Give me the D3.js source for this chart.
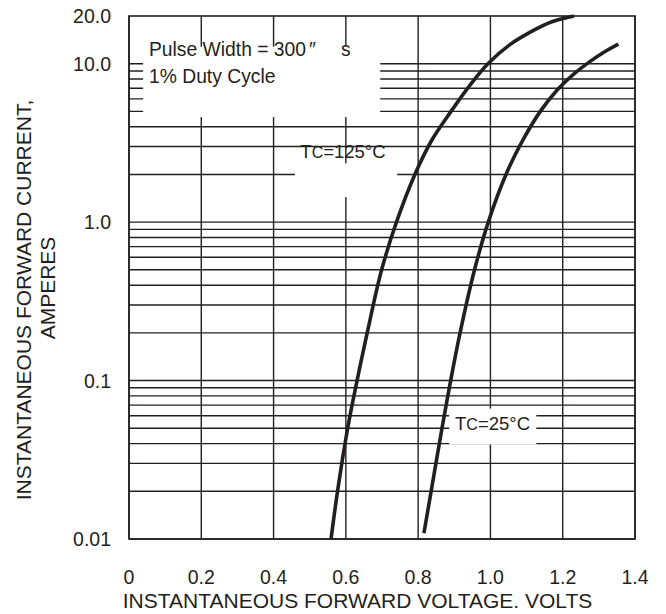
<!DOCTYPE html>
<html>
<head>
<meta charset="utf-8">
<script src="https://cdn.jsdelivr.net/npm/d3@7"></script>
<style>
  body { margin: 0; background: #fff; }
  text { font-family: "Liberation Sans", Arial, sans-serif; fill: #231f20; }
</style>
</head>
<body>
<div id="chart"></div>
<script>
var width = 666,
  height = 614;

// Tc = 125°C curve (volts, amperes)
var hot_v = [0.559, 0.577, 0.605, 0.631, 0.659, 0.699, 0.740, 0.791, 0.838, 0.891, 0.943, 0.993, 1.054, 1.123, 1.170, 1.231];
var hot_i = [0.01, 0.02, 0.05, 0.1, 0.2, 0.5, 1, 2, 3.3, 5, 7.3, 10, 13.2, 16.4, 18.4, 20];
// Tc = 25°C curve
var cold_v = [0.816, 0.836, 0.866, 0.890, 0.916, 0.956, 0.994, 1.043, 1.090, 1.138, 1.184, 1.228, 1.275, 1.316, 1.354];
var cold_i = [0.0109, 0.02, 0.05, 0.1, 0.2, 0.5, 1, 2, 3.3, 5, 6.8, 8.5, 10.3, 11.9, 13.3];

var x_ticks = [0, 0.2, 0.4, 0.6, 0.8, 1.0, 1.2, 1.4];
var x_labels = ["0", "0.2", "0.4", "0.6", "0.8", "1.0", "1.2", "1.4"];
var y_ticks = [20, 10, 1, 0.1, 0.01];
var y_labels = ["20.0", "10.0", "1.0", "0.1", "0.01"];

var ink = "#231f20";

var x = d3.scaleLinear().domain([0, 1.4]).range([129, 635]);
var y = d3.scaleLog().domain([0.01, 20]).range([539, 16]);

var svg = d3
  .select("#chart")
  .append("svg")
  .attr("width", width)
  .attr("height", height);

// log grid: 1..9 in every decade, plus the 10 line
var hlines = [];
[0.01, 0.1, 1].forEach(function (dec) {
  for (var k = 1; k <= 9; k++) hlines.push(dec * k);
});
hlines.push(10);

var grid = svg.append("g").attr("stroke", ink).attr("stroke-width", 1.4);
grid
  .selectAll("line.h")
  .data(hlines)
  .enter()
  .append("line")
  .attr("x1", x(0))
  .attr("x2", x(1.4))
  .attr("y1", function (d) { return y(d); })
  .attr("y2", function (d) { return y(d); });
grid
  .selectAll("line.v")
  .data(x_ticks)
  .enter()
  .append("line")
  .attr("x1", function (d) { return x(d); })
  .attr("x2", function (d) { return x(d); })
  .attr("y1", y(20))
  .attr("y2", y(0.01));

// frame
svg
  .append("rect")
  .attr("x", x(0))
  .attr("y", y(20))
  .attr("width", x(1.4) - x(0))
  .attr("height", y(0.01) - y(20))
  .attr("fill", "none")
  .attr("stroke", ink)
  .attr("stroke-width", 1.6);

// curves
var line = d3
  .line()
  .x(function (d) { return x(d[0]); })
  .y(function (d) { return y(d[1]); })
  .curve(d3.curveCatmullRom.alpha(0.5));

var curves = [d3.zip(hot_v, hot_i), d3.zip(cold_v, cold_i)];
svg
  .selectAll("path.curve")
  .data(curves)
  .enter()
  .append("path")
  .attr("d", line)
  .attr("fill", "none")
  .attr("stroke", ink)
  .attr("stroke-width", 3.6)
  .attr("stroke-linecap", "butt");

// white boxes behind annotations (they cut the grid)
function whiteBox(x0, x1, i0, i1) {
  svg
    .append("rect")
    .attr("x", x(x0))
    .attr("y", y(i0))
    .attr("width", x(x1) - x(x0))
    .attr("height", y(i1) - y(i0))
    .attr("fill", "#fff");
}
whiteBox(0.039, 0.695, 12.8, 4.6);
whiteBox(0.459, 0.742, 2.35, 1.44);
whiteBox(0.886, 1.127, 0.0665, 0.0395);

// legend
var leg1 = svg
  .append("text")
  .attr("x", 149)
  .attr("y", 56)
  .style("font-size", "19.3px");
leg1.append("tspan").text("Pulse Width = 300");
leg1.append("tspan").attr("dx", 3).text("\u2033");
leg1.append("tspan").attr("x", 341).text("s");
svg
  .append("text")
  .attr("x", 149)
  .attr("y", 83)
  .style("font-size", "19.3px")
  .text("1% Duty Cycle");

// Tc labels
function tcLabel(px, py, rest) {
  var t = svg.append("text").attr("x", px).attr("y", py).style("font-size", "18.5px");
  t.append("tspan").text("T");
  t.append("tspan").style("font-size", "16px").text("C");
  t.append("tspan").text(rest);
}
tcLabel(x(0.474), 158, "=125\u00b0C");
tcLabel(x(0.902), 430, "=25\u00b0C");

// tick labels
svg
  .selectAll("text.xt")
  .data(x_ticks)
  .enter()
  .append("text")
  .attr("x", function (d) { return x(d); })
  .attr("y", 584)
  .attr("text-anchor", "middle")
  .style("font-size", "19.5px")
  .text(function (d, i) { return x_labels[i]; });

svg
  .selectAll("text.yt")
  .data(y_ticks)
  .enter()
  .append("text")
  .attr("x", 111)
  .attr("y", function (d) { return y(d); })
  .attr("dy", "0.36em")
  .attr("text-anchor", "end")
  .style("font-size", "19.5px")
  .text(function (d, i) { return y_labels[i]; });

// axis titles
svg
  .append("text")
  .attr("x", 357.5)
  .attr("y", 608)
  .attr("text-anchor", "middle")
  .style("font-size", "21px")
  .text("INSTANTANEOUS FORWARD VOLTAGE. VOLTS");

svg
  .append("text")
  .attr("transform", "translate(31,300) rotate(-90)")
  .attr("text-anchor", "middle")
  .style("font-size", "21px")
  .text("INSTANTANEOUS FORWARD CURRENT,");
svg
  .append("text")
  .attr("transform", "translate(55,288) rotate(-90)")
  .attr("text-anchor", "middle")
  .style("font-size", "21px")
  .text("AMPERES");
</script>
</body>
</html>
